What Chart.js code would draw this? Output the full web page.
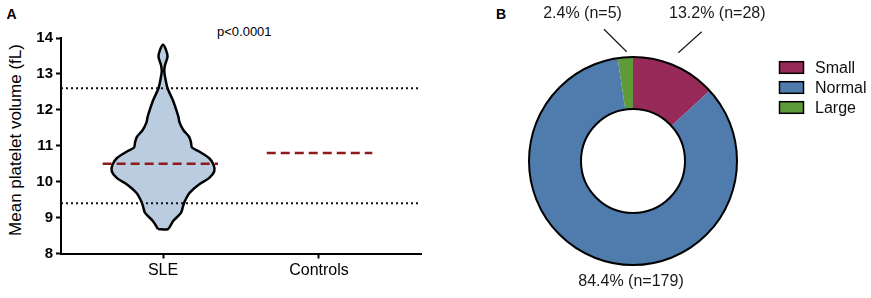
<!DOCTYPE html>
<html>
<head>
<meta charset="utf-8">
<title>Mean platelet volume in SLE</title>
<script src="https://cdn.jsdelivr.net/npm/chart.js"></script>
<style>
    body {
        margin: 0;
        width: 871px;
        height: 298px;
        overflow: hidden;
        position: relative;
        background: #fff;
        font-family: Arial, 'Liberation Sans', sans-serif;
        color: #000;
    }
    canvas { position: absolute; top: 0; }
    #violin { left: 0; }
    #donut { left: 480px; }
    .panel {
        position: absolute;
        top: 6.5px;
        font-size: 14px;
        font-weight: bold;
        line-height: 1;
    }
    .pval {
        position: absolute;
        left: 217px;
        top: 25px;
        font-size: 13px;
        line-height: 1;
    }
    .ytitle {
        position: absolute;
        left: 15px;
        top: 140px;
        font-size: 17px;
        line-height: 1;
        white-space: nowrap;
        transform: translate(-50%, -50%) rotate(-90deg);
    }
</style>
</head>
<body>
<div class="panel" style="left:6.5px">A</div>
<div class="panel" style="left:496px">B</div>
<div class="pval">p&lt;0.0001</div>
<div class="ytitle">Mean platelet volume (fL)</div>
<canvas id="violin" width="440" height="298"></canvas>
<canvas id="donut" width="391" height="298"></canvas>

<script>
    // panel A: violin of SLE MPV, group medians, normal range
    const categories = ['SLE', 'Controls'];
    const violinMfv = [8.68, 8.9, 9.13, 9.31, 9.45, 9.69, 9.92, 10.1, 10.29, 10.47, 10.66, 10.84, 10.95,
                       11.1, 11.25, 11.44, 11.65, 11.8, 12.0, 12.28, 12.6, 12.85, 13.08, 13.25, 13.48, 13.67, 13.81];
    const violinHalfWidth = [0.032, 0.064, 0.115, 0.128, 0.139, 0.171, 0.231, 0.295, 0.329, 0.324, 0.295, 0.231, 0.186,
                             0.179, 0.167, 0.130, 0.106, 0.099, 0.085, 0.062, 0.029, 0.016, 0.008, 0.013, 0.029, 0.019, 0];
    const medianMfv = [10.5, 10.8];
    const normalRange = [9.4, 12.6];

    // panel B: platelet size groups
    const sizeLabels = ['Small', 'Normal', 'Large'];
    const sizeCounts = [28, 179, 5];
    const sizePercent = [13.2, 84.4, 2.4];
    const sizeColors = ['#982A5A', '#4F7CAC', '#5F9A3A'];

    const X_MIN = -0.654, X_MAX = 1.654;

    // outline: up the left side, down the right side
    const leftSide = violinMfv.map((v, i) => ({ x: -violinHalfWidth[i], y: v }));
    const rightSide = violinMfv.map((v, i) => ({ x: violinHalfWidth[i], y: v })).reverse().slice(1);
    const outline = leftSide.concat(rightSide);
    outline.push(outline[0]);

    const medianSpan = [[-0.387, 0.353], [0.665, 1.342]];

    const datasets = [{
        data: outline,
        showLine: true,
        fill: 'shape',
        backgroundColor: '#BACCE0',
        borderColor: '#000',
        borderWidth: 2.5,
        tension: 0.3,
        pointRadius: 0,
        order: 3
    }];
    normalRange.forEach(v => {
        datasets.push({
            data: [{ x: X_MIN, y: v }, { x: X_MAX, y: v }],
            showLine: true,
            borderColor: '#111',
            borderWidth: 2,
            borderDash: [2, 3],
            pointRadius: 0,
            order: 2
        });
    });
    medianMfv.forEach((v, i) => {
        datasets.push({
            data: [{ x: medianSpan[i][0], y: v }, { x: medianSpan[i][1], y: v }],
            showLine: true,
            borderColor: '#8E1B1B',
            borderWidth: 2.5,
            borderDash: [9, 5],
            pointRadius: 0,
            order: 1
        });
    });

    const axisGrid = { drawOnChartArea: false, tickLength: 5, tickColor: '#000', tickWidth: 2 };
    const axisBorder = { color: '#000', width: 2 };

    new Chart(document.getElementById('violin'), {
        type: 'scatter',
        data: { datasets: datasets },
        options: {
            responsive: false,
            animation: false,
            layout: { padding: { left: 0, right: 19, top: 38, bottom: 0 } },
            plugins: { legend: { display: false }, tooltip: { enabled: false } },
            scales: {
                x: {
                    type: 'linear',
                    min: X_MIN,
                    max: X_MAX,
                    afterBuildTicks: s => { s.ticks = categories.map((c, i) => ({ value: i })); },
                    afterFit: s => { s.height = 44.5; },
                    ticks: {
                        callback: v => categories[v],
                        font: { size: 16 },
                        color: '#000',
                        padding: 2,
                        maxRotation: 0,
                        autoSkip: false
                    },
                    grid: axisGrid,
                    border: axisBorder
                },
                y: {
                    min: 8,
                    max: 14,
                    afterFit: s => { s.width = 61; },
                    ticks: {
                        stepSize: 1,
                        font: { size: 15, weight: 'bold' },
                        color: '#000',
                        padding: 3
                    },
                    grid: axisGrid,
                    border: axisBorder
                }
            }
        }
    });

    // label placement relative to the doughnut centre
    const labelLayout = [
        { line: [45.3, -108.3, 68.7, -129.3], text: [84.3, -147] },
        { line: null, text: [-2, 121] },
        { line: [-6.3, -109.3, -29, -131.7], text: [-50.5, -147] }
    ];

    const donutDecor = {
        id: 'donutDecor',
        afterDraw(chart) {
            const ctx = chart.ctx;
            const arc = chart.getDatasetMeta(0).data[0];
            const cx = arc.x, cy = arc.y;
            ctx.save();
            ctx.strokeStyle = '#000';
            ctx.lineWidth = 2;
            ctx.beginPath();
            ctx.arc(cx, cy, arc.outerRadius, 0, Math.PI * 2);
            ctx.stroke();
            ctx.beginPath();
            ctx.arc(cx, cy, arc.innerRadius, 0, Math.PI * 2);
            ctx.stroke();

            ctx.font = '16px Arial, "Liberation Sans", sans-serif';
            ctx.fillStyle = '#1a1a1a';
            ctx.strokeStyle = '#1a1a1a';
            ctx.lineWidth = 1.2;
            ctx.textAlign = 'center';
            ctx.textBaseline = 'middle';
            sizeLabels.forEach((lab, i) => {
                const l = labelLayout[i];
                if (l.line) {
                    ctx.beginPath();
                    ctx.moveTo(cx + l.line[0], cy + l.line[1]);
                    ctx.lineTo(cx + l.line[2], cy + l.line[3]);
                    ctx.stroke();
                }
                ctx.fillText(sizePercent[i] + '% (n=' + sizeCounts[i] + ')', cx + l.text[0], cy + l.text[1]);
            });

            // legend
            ctx.textAlign = 'left';
            ctx.fillStyle = '#111';
            ctx.lineWidth = 1.5;
            ctx.strokeStyle = '#000';
            sizeLabels.forEach((lab, i) => {
                const by = 61.7 + i * 20;
                ctx.fillStyle = sizeColors[i];
                ctx.fillRect(299.5, by, 24, 11.6);
                ctx.strokeRect(299.5, by, 24, 11.6);
                ctx.fillStyle = '#111';
                ctx.fillText(lab, 335, by + 6.5);
            });
            ctx.restore();
        }
    };

    new Chart(document.getElementById('donut'), {
        type: 'doughnut',
        data: {
            labels: sizeLabels,
            datasets: [{
                data: sizeCounts,
                backgroundColor: sizeColors,
                borderWidth: 0,
                hoverOffset: 0
            }]
        },
        options: {
            responsive: false,
            animation: false,
            cutout: '50%',
            layout: { padding: { left: 49, top: 57, right: 134, bottom: 33 } },
            plugins: { legend: { display: false }, tooltip: { enabled: false } }
        },
        plugins: [donutDecor]
    });
</script>
</body>
</html>
